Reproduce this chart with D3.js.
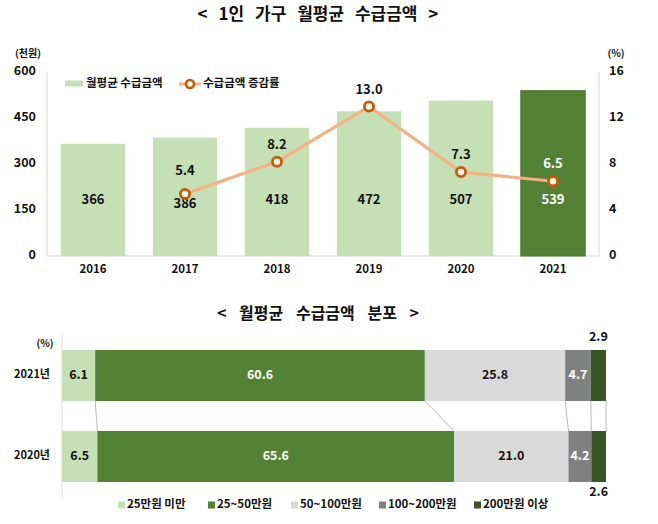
<!DOCTYPE html>
<html>
<head>
<meta charset="utf-8">
<script src="https://cdn.jsdelivr.net/npm/d3@7"></script>
<style>
  body { margin: 0; background: #fff; }
  svg { display: block; }
  text { font-family: "Noto Sans CJK KR", "Noto Sans", sans-serif; font-weight: bold; fill: #111; }
</style>
</head>
<body>
<svg id="chart" width="658" height="524"></svg>
<script>
// ---------- Data ----------
const years = ["2016", "2017", "2018", "2019", "2020", "2021"];
const amounts = [366, 386, 418, 472, 507, 539];          // 천원
const growth = [null, 5.4, 8.2, 13.0, 7.3, 6.5];         // %
const leftTicks = [0, 150, 300, 450, 600];
const rightTicks = [0, 4, 8, 12, 16];

const distRows = ["2021년", "2020년"];
const distCats = ["25만원 미만", "25~50만원", "50~100만원", "100~200만원", "200만원 이상"];
const dist2021 = [6.1, 60.6, 25.8, 4.7, 2.9];
const dist2020 = [6.5, 65.6, 21.0, 4.2, 2.6];

// ---------- Styles ----------
const cLight = "#C5E0B4", cDark = "#548235";
const distColors = ["#C5E0B4", "#548235", "#D9D9D9", "#808080", "#375623"];
const distLabelColors = ["#111", "#fff", "#111", "#fff", "#111"];
const axisGray = "#D9D9D9";

const svg = d3.select("#chart");

// ---------- Top chart ----------
svg.append("text").attr("x", 318).attr("y", 15).attr("text-anchor", "middle")
  .attr("dominant-baseline", "middle").style("font-size", "17px").style("word-spacing", "7px")
  .text("< 1인 가구 월평균 수급금액 >");

const x = d3.scaleBand().domain(years).range([47, 599]).paddingInner(0.3).paddingOuter(0.15);
const yL = d3.scaleLinear().domain([0, 600]).range([256, 72]);
const yR = d3.scaleLinear().domain([0, 16]).range([256, 72]);

// axis lines
svg.append("line").attr("x1", 47).attr("x2", 47).attr("y1", yL(600)).attr("y2", yL(0)).attr("stroke", axisGray);
svg.append("line").attr("x1", 599).attr("x2", 599).attr("y1", yL(600)).attr("y2", yL(0)).attr("stroke", axisGray);
svg.append("line").attr("x1", 47).attr("x2", 599).attr("y1", yL(0)).attr("y2", yL(0)).attr("stroke", axisGray);

// tick labels
svg.selectAll(".lt").data(leftTicks).join("text").attr("class", "lt")
  .attr("x", 36).attr("y", d => yL(d)).attr("text-anchor", "end").attr("dominant-baseline", "middle")
  .style("font-size", "12.5px").text(d => d);
svg.selectAll(".rt").data(rightTicks).join("text").attr("class", "rt")
  .attr("x", 609).attr("y", d => yR(d)).attr("text-anchor", "start").attr("dominant-baseline", "middle")
  .style("font-size", "12.5px").text(d => d);
svg.append("text").attr("x", 28).attr("y", 54).attr("text-anchor", "middle").attr("dominant-baseline", "middle")
  .style("font-size", "10px").text("(천원)");
svg.append("text").attr("x", 616).attr("y", 54).attr("text-anchor", "middle").attr("dominant-baseline", "middle")
  .style("font-size", "10px").text("(%)");

// x labels
svg.selectAll(".xl").data(years).join("text").attr("class", "xl")
  .attr("x", d => x(d) + x.bandwidth() / 2).attr("y", 270).attr("text-anchor", "middle")
  .attr("dominant-baseline", "middle").style("font-size", "11.5px").text(d => d);

// bars
const barData = years.map((y, i) => ({ year: y, v: amounts[i], g: growth[i], last: i === years.length - 1 }));
svg.selectAll(".bar").data(barData).join("rect").attr("class", "bar")
  .attr("x", d => x(d.year)).attr("width", x.bandwidth())
  .attr("y", d => yL(d.v)).attr("height", d => yL(0) - yL(d.v))
  .attr("fill", d => d.last ? cDark : cLight)
  .attr("stroke", d => d.last ? "#4A7A2C" : "none").attr("stroke-width", 1);

// bar value labels
svg.selectAll(".bv").data(barData).join("text").attr("class", "bv")
  .attr("x", d => x(d.year) + x.bandwidth() / 2).attr("y", d => yL(182) + (d.year === "2017" ? 4 : 0))
  .attr("text-anchor", "middle").attr("dominant-baseline", "middle")
  .style("font-size", "13px").style("fill", d => d.last ? "#fff" : "#111").text(d => d.v);

// line
const lineData = barData.filter(d => d.g !== null);
const line = d3.line().x(d => x(d.year) + x.bandwidth() / 2).y(d => yR(d.g));
svg.append("path").datum(lineData).attr("d", line).attr("fill", "none")
  .attr("stroke", "#F4B183").attr("stroke-width", 3.2).attr("stroke-linejoin", "round");
svg.selectAll(".pt").data(lineData).join("circle").attr("class", "pt")
  .attr("cx", d => x(d.year) + x.bandwidth() / 2).attr("cy", d => yR(d.g)).attr("r", 4.6)
  .attr("fill", "#FFF7E0").attr("stroke", "#C55A11").attr("stroke-width", 2.8);
svg.selectAll(".gv").data(lineData).join("text").attr("class", "gv")
  .attr("x", d => x(d.year) + x.bandwidth() / 2).attr("y", d => yR(d.g) - (d.year === "2017" ? 22 : 16.5))
  .attr("text-anchor", "middle").attr("dominant-baseline", "middle")
  .style("font-size", "13px").style("fill", d => d.last ? "#fff" : "#111").text(d => d.g.toFixed(1));

// top legend
svg.append("rect").attr("x", 65).attr("y", 80.5).attr("width", 18).attr("height", 6).attr("fill", cLight);
svg.append("text").attr("x", 86).attr("y", 84).attr("dominant-baseline", "middle").style("font-size", "11.5px")
  .text("월평균 수급금액");
svg.append("line").attr("x1", 179).attr("x2", 201).attr("y1", 84).attr("y2", 84).attr("stroke", "#F4B183").attr("stroke-width", 3);
svg.append("circle").attr("cx", 190).attr("cy", 84).attr("r", 4).attr("fill", "#FFF7E0")
  .attr("stroke", "#C55A11").attr("stroke-width", 2.6);
svg.append("text").attr("x", 203).attr("y", 84).attr("dominant-baseline", "middle").style("font-size", "11.5px")
  .text("수급금액 증감률");

// ---------- Bottom chart ----------
svg.append("text").attr("x", 318).attr("y", 315).attr("text-anchor", "middle")
  .attr("dominant-baseline", "middle").style("font-size", "16px").style("word-spacing", "9px")
  .text("< 월평균 수급금액 분포 >");

const xs = d3.scaleLinear().domain([0, 100]).range([62, 606]);
const ys = d3.scaleBand().domain(distRows).range([335, 497]).paddingInner(0.37).paddingOuter(0.185);

const rowsVals = [dist2021, dist2020];
const segs = [];
rowsVals.forEach((vals, r) => {
  let acc = 0;
  vals.forEach((v, i) => {
    segs.push({ row: distRows[r], r, i, v, x0: acc, x1: acc + v });
    acc += v;
  });
});
// stacked to 100%
segs.forEach(s => { if (s.i === distCats.length - 1) s.x1 = 100; });

// connector lines
const cum = rowsVals.map(vals => d3.cumsum(vals));
distCats.forEach((c, i) => {
  const a = i === distCats.length - 1 ? 100 : cum[0][i];
  const b = i === distCats.length - 1 ? 100 : cum[1][i];
  svg.append("line").attr("x1", xs(a)).attr("y1", ys(distRows[0]) + ys.bandwidth())
    .attr("x2", xs(b)).attr("y2", ys(distRows[1]))
    .attr("stroke", "#A6A6A6").attr("stroke-width", 0.8);
});

svg.selectAll(".seg").data(segs).join("rect").attr("class", "seg")
  .attr("x", d => xs(d.x0)).attr("width", d => xs(d.x1) - xs(d.x0))
  .attr("y", d => ys(d.row)).attr("height", ys.bandwidth())
  .attr("fill", d => distColors[d.i]);

// axis line
svg.append("line").attr("x1", 62).attr("x2", 62).attr("y1", 335).attr("y2", 497).attr("stroke", axisGray);

// segment labels
svg.selectAll(".sl").data(segs).join("text").attr("class", "sl")
  .attr("x", d => (xs(d.x0) + xs(d.x1)) / 2)
  .attr("y", d => {
    if (d.i === distCats.length - 1) {
      return d.r === 0 ? ys(d.row) - 12 : ys(d.row) + ys.bandwidth() + 11;
    }
    return ys(d.row) + ys.bandwidth() / 2;
  })
  .attr("text-anchor", "middle").attr("dominant-baseline", "middle")
  .style("font-size", "12.5px").style("fill", d => distLabelColors[d.i]).text(d => d.v.toFixed(1));

// row labels
svg.selectAll(".rl").data(distRows).join("text").attr("class", "rl")
  .attr("x", 50).attr("y", d => ys(d) + ys.bandwidth() / 2).attr("text-anchor", "end")
  .attr("dominant-baseline", "middle").style("font-size", "11px").text(d => d);
svg.append("text").attr("x", 45).attr("y", 344).attr("text-anchor", "middle").attr("dominant-baseline", "middle")
  .style("font-size", "10px").text("(%)");

// bottom legend
const legX = [118, 208, 291, 379, 474];
const lg = svg.selectAll(".lg").data(distCats).join("g").attr("class", "lg")
  .attr("transform", (d, i) => `translate(${legX[i]},505)`);
lg.append("rect").attr("x", 0).attr("y", -3.5).attr("width", 7).attr("height", 7).attr("fill", (d, i) => distColors[i]);
lg.append("text").attr("x", 9).attr("y", 0).attr("dominant-baseline", "middle").style("font-size", "11.5px").text(d => d);
</script>
</body>
</html>
